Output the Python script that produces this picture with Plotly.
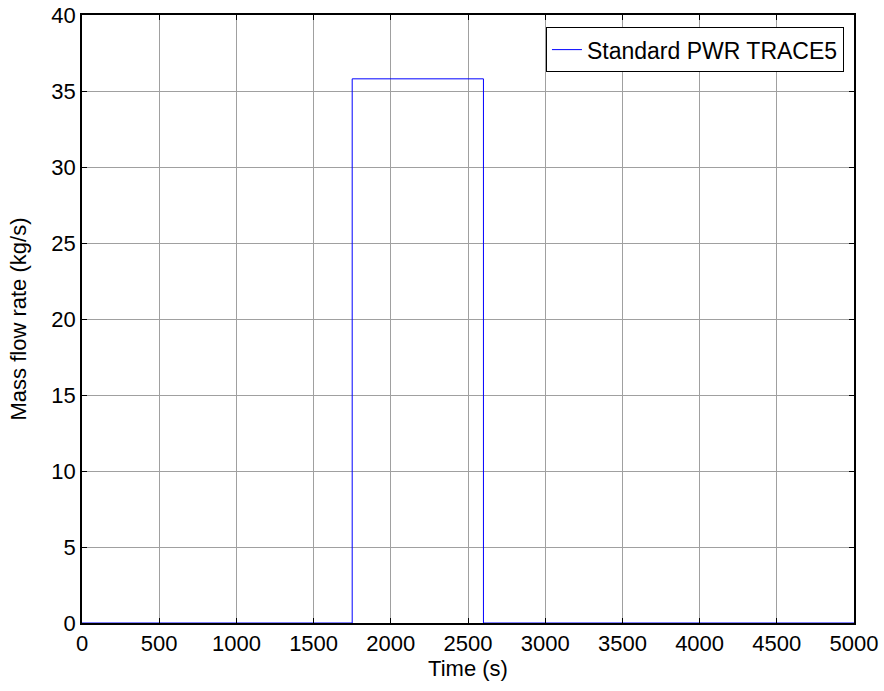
import plotly.graph_objs as go

# step signal
time_s = [0, 1750, 2600, 5000]
flow_kgs = [0, 35.8, 0, 0]
series_name = 'Standard PWR TRACE5'

x_ticks = list(range(0, 5001, 500))
y_ticks = list(range(0, 41, 5))

font = dict(family='Liberation Sans, Arial', size=22, color='black')

data = [go.Scatter(
    x=time_s,
    y=flow_kgs,
    mode='lines',
    line=dict(color='#0000ff', width=1, shape='hv'),
    name=series_name,
)]

axis_style = dict(
    showline=True, linecolor='black', linewidth=1.5, mirror='ticks',
    ticks='inside', ticklen=5, tickcolor='black', tickwidth=1,
    showgrid=True, gridcolor='#a0a0a0', gridwidth=1,
    zeroline=False, tickfont=font, automargin=False,
    ticklabeloverflow='allow',
)

layout = go.Layout(
    width=884, height=691,
    paper_bgcolor='white', plot_bgcolor='white',
    margin=dict(l=82, r=30, t=15, b=68),
    font=font,
    showlegend=True,
    xaxis=dict(axis_style, range=[0, 5000], tickvals=x_ticks,
               title=dict(text='Time (s)', font=font, standoff=1)),
    yaxis=dict(axis_style, range=[0, 40], tickvals=y_ticks,
               title=dict(text='Mass flow rate (kg/s)', font=font, standoff=19)),
    legend=dict(x=0.987, y=0.98, xanchor='right', yanchor='top',
                bgcolor='white', bordercolor='black', borderwidth=1,
                font=dict(family='Liberation Sans, Arial', size=23, color='black')),
)

fig = go.Figure(data=data, layout=layout)
# drop the default 8px page margin so the figure fills the window
fig.write_html('out.html', config={'displayModeBar': False},
               post_script="document.body.style.margin='0';")
